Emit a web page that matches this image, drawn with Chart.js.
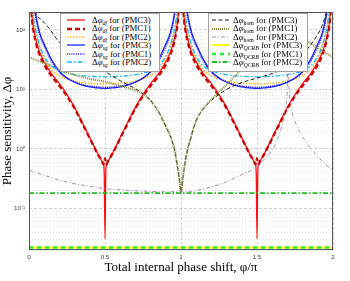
<!DOCTYPE html>
<html>
<head>
<meta charset="utf-8">
<script src="https://cdn.jsdelivr.net/npm/chart.js@4.4.1/dist/chart.umd.min.js"></script>
<style>
  html, body { margin: 0; padding: 0; background: #fff; }
  #wrap { position: relative; width: 350px; height: 281px; }
  .legend {
    position: absolute; top: 13px; width: 100px; height: 59px;
    background: #fff; border: 1px solid #a0a0a0; box-sizing: border-box;
    padding-top: 2px; font-family: "Liberation Serif", serif; font-size: 8.8px; color: #000;
  }
  #legA { left: 60px; }
  #legB { left: 208px; }
  .row { height: 8.4px; line-height: 8.4px; white-space: nowrap; display: flex; align-items: center; }
  .row svg { flex: none; }
  #legA svg { margin: 0 7px 0 6px; }
  #legB svg { margin: 0 3px 0 3px; }
  .row sub { font-size: 5.8px; vertical-align: -1.5px; line-height: 0; }
  .it { font-style: italic; }
</style>
</head>
<body>
<div id="wrap">
  <canvas id="chart" width="350" height="281"></canvas>
  <div class="legend" id="legA"></div>
  <div class="legend" id="legB"></div>
</div>
<script>
// x positions (phi/pi) for the df and sg curves, two lobes
const PHI_LOBE = [
  0.005, 0.02, 0.03, 0.05, 0.07, 0.1, 0.15, 0.2, 0.25, 0.3, 0.35, 0.4, 0.45, 0.48, 0.49, 0.495,
  0.5,
  0.505, 0.51, 0.52, 0.55, 0.6, 0.65, 0.7, 0.75, 0.8, 0.85, 0.9, 0.93, 0.95, 0.97, 0.98, 0.995,
  1,
  1.005, 1.02, 1.03, 1.05, 1.07, 1.1, 1.15, 1.2, 1.25, 1.3, 1.35, 1.4, 1.45, 1.48, 1.49, 1.495,
  1.5,
  1.505, 1.51, 1.52, 1.55, 1.6, 1.65, 1.7, 1.75, 1.8, 1.85, 1.9, 1.93, 1.95, 1.97, 1.98, 1.995
];

const DF_PMC3 = [
  800, 165, 105, 61, 42, 29, 18, 12.5, 8.2, 5, 2.8, 1.55, 0.85, 0.62, 0.55, 0.38,
  0.031,
  0.38, 0.55, 0.62, 0.85, 1.55, 2.8, 5, 8.2, 12.5, 18, 29, 42, 61, 105, 165, 800,
  null,
  800, 165, 105, 61, 42, 29, 18, 12.5, 8.2, 5, 2.8, 1.55, 0.85, 0.62, 0.55, 0.38,
  0.031,
  0.38, 0.55, 0.62, 0.85, 1.55, 2.8, 5, 8.2, 12.5, 18, 29, 42, 61, 105, 165, 800
];
const DF_PMC1 = [
  700, 148, 95, 55, 38, 26, 16.5, 11.5, 7.7, 4.8, 2.7, 1.5, 0.84, 0.62, 0.55, 0.6,
  0.7,
  0.6, 0.55, 0.62, 0.84, 1.5, 2.7, 4.8, 7.7, 11.5, 16.5, 26, 38, 55, 95, 148, 700,
  null,
  700, 148, 95, 55, 38, 26, 16.5, 11.5, 7.7, 4.8, 2.7, 1.5, 0.84, 0.62, 0.55, 0.6,
  0.7,
  0.6, 0.55, 0.62, 0.84, 1.5, 2.7, 4.8, 7.7, 11.5, 16.5, 26, 38, 55, 95, 148, 700
];
const DF_PMC2 = [
  1500, 250, 150, 80, 52, 33, 21, 17, 15, 13.8, 13.1, 12.7, 12.5, 12.4, 12.4, 12.4,
  12.4,
  12.4, 12.4, 12.4, 12.5, 12.7, 13.1, 13.8, 15, 17, 21, 33, 52, 80, 150, 250, 1500,
  null,
  1500, 250, 150, 80, 52, 33, 21, 17, 15, 13.8, 13.1, 12.7, 12.5, 12.4, 12.4, 12.4,
  12.4,
  12.4, 12.4, 12.4, 12.5, 12.7, 13.1, 13.8, 15, 17, 21, 33, 52, 80, 150, 250, 1500
];
const SG_PMC3 = [
  3000, 600, 320, 150, 90, 58, 31, 20, 15.5, 13.2, 11.8, 11, 10.6, 10.45, 10.4, 10.4,
  10.4,
  10.4, 10.4, 10.45, 10.6, 11, 11.8, 13.2, 15.5, 20, 31, 58, 90, 150, 320, 600, 3000,
  null,
  3000, 600, 320, 150, 90, 58, 31, 20, 15.5, 13.2, 11.8, 11, 10.6, 10.45, 10.4, 10.4,
  10.4,
  10.4, 10.4, 10.45, 10.6, 11, 11.8, 13.2, 15.5, 20, 31, 58, 90, 150, 320, 600, 3000
];
const SG_PMC1 = [
  2500, 520, 280, 135, 82, 53, 29, 19.5, 15.5, 13.4, 12.1, 11.4, 11, 10.9, 10.9, 10.9,
  10.9,
  10.9, 10.9, 10.9, 11, 11.4, 12.1, 13.4, 15.5, 19.5, 29, 53, 82, 135, 280, 520, 2500,
  null,
  2500, 520, 280, 135, 82, 53, 29, 19.5, 15.5, 13.4, 12.1, 11.4, 11, 10.9, 10.9, 10.9,
  10.9,
  10.9, 10.9, 10.9, 11, 11.4, 12.1, 13.4, 15.5, 19.5, 29, 53, 82, 135, 280, 520, 2500
];
const SG_PMC2 = [
  1200, 260, 160, 85, 55, 36, 24.5, 20.5, 18.8, 17.7, 17, 16.6, 16.4, 16.3, 16.3, 16.3,
  16.3,
  16.3, 16.3, 16.3, 16.4, 16.6, 17, 17.7, 18.8, 20.5, 24.5, 36, 55, 85, 160, 260, 1200,
  null,
  1200, 260, 160, 85, 55, 36, 24.5, 20.5, 18.8, 17.7, 17, 16.6, 16.4, 16.3, 16.3, 16.3,
  16.3,
  16.3, 16.3, 16.3, 16.4, 16.6, 17, 17.7, 18.8, 20.5, 24.5, 36, 55, 85, 160, 260, 1200
];

// homodyne curves
const PHI_HOM = [
  0, 0.03, 0.046, 0.08, 0.125, 0.2, 0.3, 0.4, 0.5, 0.6, 0.65, 0.7, 0.75, 0.8, 0.85, 0.9,
  0.94, 0.96, 0.98, 0.99, 1.0, 1.01, 1.02, 1.04, 1.06, 1.1, 1.15, 1.2, 1.3, 1.4, 1.5,
  1.6, 1.7, 1.8, 1.85, 1.9, 1.93, 1.96, 1.98, 2.0
];
const HOM_PMC3 = [
  2000, 300, 190, 150, 112, 62, 38, 27, 20, 14, 12, 10.3, 8.5, 6.5, 4.3, 2.4,
  1.4, 0.9, 0.45, 0.3, 0.19, 0.3, 0.45, 0.9, 1.4, 3, 4.8, 6.5, 10, 13, 15.5,
  18.5, 24, 38, 55, 85, 120, 220, 450, 2000
];
const HOM_PMC1 = [
  35, 32.5, 31.5, 29, 26, 21.5, 17.5, 15, 13.5, 11.5, 10.6, 9.6, 8.4, 6.5, 4.3, 2.4,
  1.4, 0.9, 0.45, 0.3, 0.19, 0.3, 0.45, 0.9, 1.4, 3, 4.9, 6.8, 12, 22, 38,
  65, 95, 80, 60, 50, 45, 40, 37, 35
];
const PHI_HOM2 = [
  0, 0.1, 0.2, 0.3, 0.4, 0.5, 0.6, 0.7, 0.8, 0.9, 1.0, 1.1, 1.2, 1.3, 1.4, 1.5, 1.55, 1.6,
  1.64, 1.67, 1.69, 1.7, 1.705, 1.71, 1.72, 1.73, 1.76, 1.8, 1.85, 1.9, 1.95, 2.0
];
const HOM_PMC2 = [
  0.44, 0.36, 0.3, 0.26, 0.235, 0.215, 0.205, 0.198, 0.193, 0.19, 0.19, 0.2, 0.23, 0.28, 0.37, 0.5, 0.68, 0.95,
  1.6, 2.8, 5.5, 15, 3000, 15, 6, 4.2, 2.5, 1.6, 1.05, 0.75, 0.55, 0.44
];

// quantum Cramer-Rao bounds (flat)
const PHI_QCRB = [0, 2];
const QCRB_PMC3 = [0.022, 0.022];
const QCRB_PMC1 = [0.022, 0.022];
const QCRB_PMC2 = [0.18, 0.18];

const X_TICKS = [0, 0.5, 1, 1.5, 2];
const X_LABELS = ["0", "0.5", "1", "1.5", "2"];
const Y_TICKS = [0.02, 0.03, 0.04, 0.05, 0.06, 0.07, 0.08, 0.09,
  0.1, 0.2, 0.3, 0.4, 0.5, 0.6, 0.7, 0.8, 0.9,
  1, 2, 3, 4, 5, 6, 7, 8, 9,
  10, 20, 30, 40, 50, 60, 70, 80, 90, 100, 200];
const Y_MAJOR = [0.1, 1, 10, 100];
const Y_LABELS = ["10\u207B\u00B9", "10\u2070", "10\u00B9", "10\u00B2"];

const SUBS = ["df", "df", "df", "sg", "sg", "sg", "hom", "hom", "hom", "QCRB", "QCRB", "QCRB"];
const PMCS = ["PMC3", "PMC1", "PMC2", "PMC3", "PMC1", "PMC2", "PMC3", "PMC1", "PMC2", "PMC3", "PMC1", "PMC2"];

const series = [
  { x: PHI_LOBE, y: DF_PMC3, color: "#ff1010", width: 1.3, dash: [] },
  { x: PHI_LOBE, y: DF_PMC1, color: "#c80000", width: 2.3, dash: [5, 3] },
  { x: PHI_LOBE, y: DF_PMC2, color: "#ffb21e", width: 1.5, dash: [1.5, 1.5] },
  { x: PHI_LOBE, y: SG_PMC3, color: "#1f1fff", width: 1.3, dash: [] },
  { x: PHI_LOBE, y: SG_PMC1, color: "#1515ff", width: 1.5, dash: [1, 1.2] },
  { x: PHI_LOBE, y: SG_PMC2, color: "#19b5ff", width: 1.3, dash: [5, 2, 1.5, 2] },
  { x: PHI_HOM, y: HOM_PMC3, color: "#000000", width: 0.9, dash: [4, 2.5] },
  { x: PHI_HOM, y: HOM_PMC1, color: "#8a8a3c", width: 2, dash: [1, 1] },
  { x: PHI_HOM2, y: HOM_PMC2, color: "#a27ea6", width: 0.9, dash: [4, 2, 1, 2] },
  { x: PHI_QCRB, y: QCRB_PMC3, color: "#ffff22", width: 2, dash: [] },
  { x: PHI_QCRB, y: QCRB_PMC1, color: "#2ee82e", width: 2.5, dash: [4, 4] },
  { x: PHI_QCRB, y: QCRB_PMC2, color: "#22bb22", width: 1.8, dash: [5, 2, 1.5, 2] }
];

function isMajor(v) {
  return Y_MAJOR.some(m => Math.abs(v / m - 1) < 1e-6);
}

const datasets = series.map((s, i) => ({
  label: "\u0394\u03C6" + SUBS[i] + " for (" + PMCS[i] + ")",
  data: s.x.map((x, k) => ({ x: x, y: s.y[k] })),
  borderColor: s.color,
  borderWidth: s.width,
  borderDash: s.dash,
  pointRadius: 0,
  cubicInterpolationMode: "monotone",
  spanGaps: false,
  clip: 0,
  order: series.length - i
}));

// plot frame on all four sides
const frame = {
  id: "frame",
  afterDatasetsDraw(chart) {
    const { ctx, chartArea: a } = chart;
    ctx.save();
    ctx.strokeStyle = "#555";
    ctx.lineWidth = 1;
    ctx.setLineDash([]);
    ctx.strokeRect(a.left + 0.5, a.top + 0.5, a.right - a.left - 1, a.bottom - a.top - 1);
    ctx.restore();
  }
};

const tickFont = { family: "Liberation Sans", size: 6.2 };
const titleFont = { family: "Liberation Serif", size: 13 };

new Chart(document.getElementById("chart"), {
  type: "line",
  data: { datasets },
  options: {
    responsive: false,
    animation: false,
    devicePixelRatio: 1,
    layout: { padding: { top: 12, right: 17, left: 0, bottom: 0 } },
    plugins: { legend: { display: false }, tooltip: { enabled: false } },
    scales: {
      x: {
        type: "linear",
        min: 0,
        max: 2,
        afterBuildTicks: scale => { scale.ticks = X_TICKS.map(v => ({ value: v })); },
        afterFit: scale => { scale.height = 31; },
        ticks: {
          autoSkip: false,
          maxRotation: 0,
          padding: 4,
          font: tickFont,
          color: "#444",
          callback: (v, i) => X_LABELS[i]
        },
        grid: {
          drawTicks: false,
          color: "#b5b5b5",
          lineWidth: 0.6
        },
        border: { display: false, dash: [3, 2] },
        title: {
          display: true,
          text: "Total internal phase shift, \u03C6/\u03C0",
          font: titleFont,
          color: "#000",
          padding: { top: 0, bottom: 6 }
        }
      },
      y: {
        type: "logarithmic",
        min: 0.02,
        max: 200,
        afterBuildTicks: scale => { scale.ticks = Y_TICKS.map(v => ({ value: v })); },
        afterFit: scale => { scale.width = 29; },
        ticks: {
          autoSkip: false,
          padding: 4,
          font: tickFont,
          color: "#444",
          callback: v => {
            const k = Y_MAJOR.findIndex(m => Math.abs(v / m - 1) < 1e-6);
            return k >= 0 ? Y_LABELS[k] : "";
          }
        },
        grid: {
          drawTicks: false,
          color: ctx => (ctx.tick && isMajor(ctx.tick.value)) ? "#b0b0b0" : "#cfcfcf",
          lineWidth: 0.6
        },
        border: {
          display: false,
          dash: ctx => (ctx.tick && isMajor(ctx.tick.value)) ? [3, 2] : [1, 2]
        },
        title: {
          display: true,
          text: "Phase sensitivity, \u0394\u03C6",
          font: titleFont,
          color: "#000",
          padding: { top: 0, bottom: 0 }
        }
      }
    }
  },
  plugins: [frame]
});

// legends, built from the series definitions
function sample(s) {
  return '<svg width="18" height="6"><line x1="0" y1="3" x2="18" y2="3" stroke="' + s.color +
    '" stroke-width="' + s.width + '" stroke-dasharray="' + (s.dash.length ? s.dash.join(" ") : "none") + '"/></svg>';
}
function rowHtml(i) {
  const sub = SUBS[i] === "hom" ? SUBS[i] : '<span class="it">' + SUBS[i] + '</span>';
  return '<div class="row">' + sample(series[i]) +
    '<span>\u0394<span class="it">\u03C6</span><sub>' + sub + '</sub> for (' + PMCS[i] + ')</span></div>';
}
document.getElementById("legA").innerHTML = [0, 1, 2, 3, 4, 5].map(rowHtml).join("");
document.getElementById("legB").innerHTML = [6, 7, 8, 9, 10, 11].map(rowHtml).join("");
</script>
</body>
</html>
